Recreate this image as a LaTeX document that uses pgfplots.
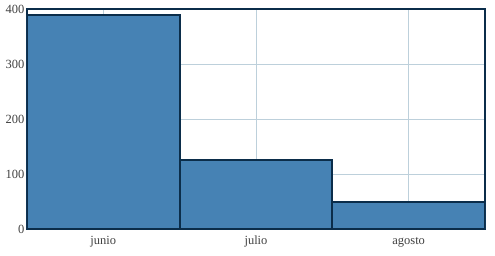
\documentclass[border=0pt]{standalone}
\usepackage{fontspec}
\setmainfont{Liberation Serif}
\usepackage{pgfplots}
\pgfplotsset{compat=1.18}
\usetikzlibrary{calc}
\definecolor{navy}{HTML}{0B2D4A}
\definecolor{barfill}{HTML}{4682B4}
\definecolor{gridc}{HTML}{BDD0DB}
\begin{document}
\begin{tikzpicture}
\begin{axis}[
  scale only axis,
  width=458pt, height=220pt,
  xmin=-0.5, xmax=2.5,
  ymin=0, ymax=400,
  xtick={0,1,2},
  xticklabels={junio,julio,agosto},
  ytick={0,100,200,300,400},
  grid=major,
  major grid style={gridc, line width=0.6pt},
  major tick length=0pt,
  axis line style={navy, line width=2pt},
  tick label style={font=\fontsize{12.5}{14}\selectfont, text=black!75},
  xticklabel style={yshift=-5pt, text height=1.6ex, text depth=0.5ex},
  yticklabel style={xshift=1pt},
  /pgf/number format/assume math mode=true,
  ybar, bar width=1,
  bar shift=0pt,
]
\addplot[fill=barfill, draw=navy, line width=2pt] coordinates {(0,389) (1,125) (2,49)};
\end{axis}
\useasboundingbox ($(current axis.south west)+(-27pt,-27pt)$) rectangle ($(current axis.north east)+(10pt,9pt)$);
\end{tikzpicture}
\end{document}
